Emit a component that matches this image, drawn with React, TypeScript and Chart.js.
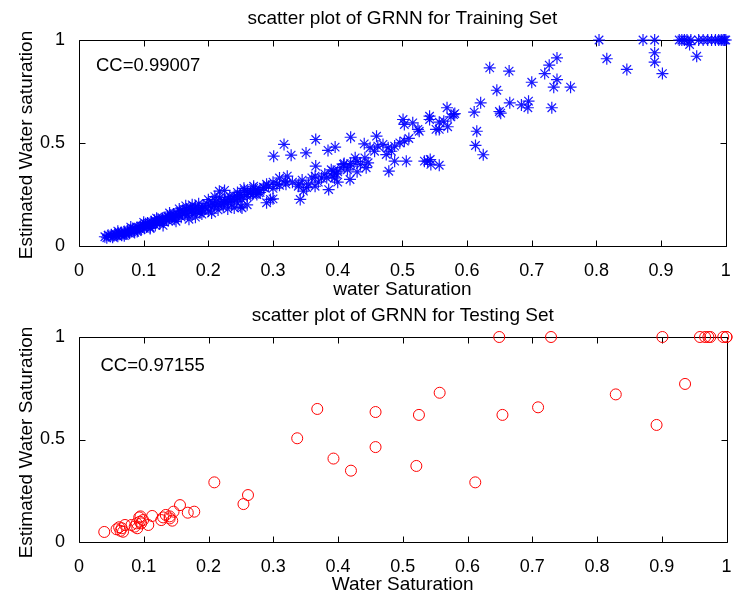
import React, { useEffect, useRef } from 'react';
import { Chart, registerables } from 'chart.js';

Chart.register(...registerables);

const FONT = '"Liberation Sans", Arial, Helvetica, sans-serif';

const X_TICK_LABELS = ['0', '0.1', '0.2', '0.3', '0.4', '0.5', '0.6', '0.7', '0.8', '0.9', '1'];
const Y_TICK_LABELS = ['0', '0.5', '1'];

const TRAIN_TITLE = 'scatter plot of GRNN for Training Set';
const TRAIN_XLABEL = 'water Saturation';
const TRAIN_YLABEL = 'Estimated Water saturation';
const TRAIN_CC = 'CC=0.99007';

const TEST_TITLE = 'scatter plot of GRNN for Testing Set';
const TEST_XLABEL = 'Water Saturation';
const TEST_YLABEL = 'Estimated Water Saturation';
const TEST_CC = 'CC=0.97155';

// [actual water saturation, estimated water saturation]
const TRAIN_POINTS: [number, number][] = [
  [0.040, 0.045], [0.043, 0.040], [0.045, 0.052], [0.048, 0.047], [0.050, 0.055], [0.052, 0.043],
  [0.054, 0.050], [0.056, 0.060], [0.058, 0.053], [0.060, 0.047], [0.061, 0.062], [0.063, 0.057],
  [0.065, 0.066], [0.066, 0.052], [0.068, 0.060], [0.070, 0.070], [0.071, 0.063], [0.073, 0.058],
  [0.075, 0.075], [0.076, 0.067], [0.078, 0.062], [0.080, 0.078], [0.081, 0.070], [0.083, 0.085],
  [0.085, 0.073], [0.086, 0.066], [0.088, 0.082], [0.090, 0.090], [0.091, 0.076], [0.093, 0.086],
  [0.095, 0.096], [0.096, 0.080], [0.098, 0.092], [0.100, 0.100], [0.101, 0.086], [0.103, 0.108],
  [0.105, 0.095], [0.106, 0.112], [0.108, 0.101], [0.110, 0.090], [0.112, 0.118], [0.113, 0.105],
  [0.115, 0.110], [0.117, 0.125], [0.118, 0.100], [0.120, 0.115], [0.122, 0.130], [0.124, 0.120],
  [0.125, 0.108], [0.127, 0.125], [0.129, 0.135], [0.131, 0.118], [0.133, 0.140], [0.135, 0.128],
  [0.137, 0.145], [0.138, 0.122], [0.140, 0.135], [0.142, 0.150], [0.144, 0.138], [0.146, 0.155],
  [0.148, 0.130], [0.150, 0.145], [0.152, 0.160], [0.154, 0.148], [0.156, 0.168], [0.158, 0.140],
  [0.160, 0.155], [0.162, 0.172], [0.164, 0.160], [0.166, 0.180], [0.168, 0.150], [0.170, 0.165],
  [0.172, 0.185], [0.174, 0.170], [0.176, 0.158], [0.178, 0.178], [0.180, 0.190], [0.182, 0.168],
  [0.185, 0.182], [0.187, 0.160], [0.190, 0.175], [0.192, 0.195], [0.195, 0.185], [0.198, 0.205],
  [0.200, 0.170], [0.203, 0.195], [0.206, 0.210], [0.209, 0.190], [0.212, 0.218], [0.215, 0.200],
  [0.218, 0.235], [0.220, 0.205], [0.223, 0.190], [0.226, 0.225], [0.230, 0.212], [0.233, 0.240],
  [0.236, 0.200], [0.240, 0.230], [0.244, 0.215], [0.248, 0.245], [0.252, 0.225], [0.256, 0.270],
  [0.260, 0.240], [0.265, 0.260], [0.270, 0.280], [0.275, 0.250], [0.280, 0.270], [0.285, 0.285],
  [0.060, 0.072], [0.080, 0.092], [0.100, 0.115], [0.120, 0.135], [0.140, 0.160], [0.155, 0.180],
  [0.165, 0.195], [0.175, 0.200], [0.185, 0.205], [0.200, 0.225], [0.210, 0.240], [0.225, 0.270],
  [0.245, 0.260], [0.255, 0.280], [0.270, 0.290], [0.290, 0.300], [0.300, 0.310], [0.310, 0.330],
  [0.070, 0.050], [0.090, 0.070], [0.110, 0.085], [0.130, 0.100], [0.150, 0.120], [0.170, 0.130],
  [0.180, 0.140], [0.190, 0.155], [0.205, 0.160], [0.215, 0.175], [0.230, 0.180], [0.250, 0.190],
  [0.260, 0.200], [0.290, 0.210], [0.110, 0.110], [0.130, 0.128], [0.145, 0.142], [0.160, 0.165],
  [0.175, 0.175], [0.190, 0.185], [0.210, 0.200], [0.225, 0.215], [0.235, 0.225], [0.245, 0.235],
  [0.260, 0.250], [0.270, 0.255], [0.280, 0.260], [0.300, 0.280], [0.310, 0.295], [0.320, 0.300],
  [0.330, 0.310], [0.340, 0.300], [0.345, 0.320], [0.355, 0.300], [0.370, 0.310], [0.375, 0.330],
  [0.380, 0.350], [0.390, 0.370], [0.400, 0.360], [0.405, 0.380], [0.410, 0.400], [0.415, 0.370],
  [0.420, 0.400], [0.430, 0.410], [0.435, 0.395], [0.430, 0.360],
  [0.217, 0.266], [0.224, 0.210], [0.231, 0.226], [0.240, 0.242], [0.240, 0.185], [0.250, 0.250],
  [0.252, 0.185], [0.260, 0.266], [0.268, 0.250], [0.273, 0.274], [0.278, 0.258], [0.286, 0.283],
  [0.293, 0.290], [0.296, 0.226], [0.300, 0.229], [0.301, 0.436], [0.306, 0.299], [0.317, 0.493],
  [0.319, 0.315], [0.322, 0.339], [0.328, 0.441], [0.339, 0.290], [0.342, 0.226], [0.347, 0.266],
  [0.351, 0.452], [0.352, 0.283], [0.360, 0.331], [0.365, 0.339], [0.365, 0.290], [0.366, 0.517],
  [0.366, 0.388], [0.383, 0.331], [0.385, 0.464], [0.386, 0.274], [0.391, 0.339], [0.393, 0.363],
  [0.395, 0.330], [0.398, 0.350], [0.400, 0.310], [0.396, 0.480], [0.409, 0.396], [0.419, 0.388],
  [0.419, 0.323], [0.420, 0.528], [0.427, 0.428], [0.441, 0.496], [0.442, 0.428], [0.444, 0.380],
  [0.447, 0.404], [0.450, 0.477], [0.457, 0.460], [0.460, 0.533], [0.462, 0.485], [0.470, 0.493],
  [0.475, 0.444], [0.478, 0.477], [0.479, 0.363], [0.483, 0.460], [0.488, 0.485], [0.488, 0.412],
  [0.496, 0.501], [0.501, 0.614], [0.503, 0.509], [0.503, 0.590], [0.506, 0.412], [0.510, 0.522],
  [0.516, 0.598], [0.524, 0.566], [0.526, 0.557], [0.534, 0.412], [0.539, 0.412], [0.542, 0.614],
  [0.542, 0.630], [0.543, 0.420], [0.544, 0.396], [0.552, 0.566], [0.557, 0.392], [0.557, 0.601],
  [0.557, 0.566], [0.564, 0.606], [0.569, 0.671], [0.570, 0.579], [0.575, 0.627], [0.579, 0.638],
  [0.581, 0.643], [0.611, 0.650], [0.613, 0.488], [0.615, 0.557], [0.621, 0.695], [0.625, 0.443],
  [0.635, 0.865], [0.646, 0.756], [0.650, 0.653], [0.652, 0.645], [0.665, 0.849], [0.666, 0.695],
  [0.684, 0.685], [0.694, 0.671], [0.695, 0.703], [0.700, 0.795], [0.720, 0.837], [0.727, 0.878],
  [0.731, 0.671], [0.734, 0.771], [0.739, 0.913], [0.739, 0.808], [0.760, 0.771], [0.804, 1.000],
  [0.816, 0.909], [0.847, 0.857], [0.872, 1.000], [0.890, 1.000], [0.890, 0.938], [0.890, 0.893],
  [0.902, 0.837], [0.928, 1.000], [0.932, 1.000], [0.936, 1.000], [0.940, 1.000], [0.944, 0.978],
  [0.946, 1.000], [0.955, 0.921], [0.958, 1.000], [0.965, 1.000], [0.972, 1.000], [0.978, 1.000],
  [0.984, 1.000], [0.989, 1.000], [0.993, 1.000], [0.996, 1.000], [0.998, 1.000], [1.000, 1.000],
];

const TEST_POINTS: [number, number][] = [
  [0.039, 0.049], [0.058, 0.062], [0.062, 0.072], [0.064, 0.055], [0.066, 0.067], [0.068, 0.050],
  [0.071, 0.083], [0.081, 0.083], [0.086, 0.075], [0.089, 0.091], [0.090, 0.067], [0.093, 0.120],
  [0.094, 0.099], [0.095, 0.125], [0.096, 0.091], [0.099, 0.107], [0.107, 0.083], [0.113, 0.127],
  [0.127, 0.107], [0.130, 0.120], [0.134, 0.132], [0.140, 0.115], [0.140, 0.125], [0.144, 0.104],
  [0.146, 0.148], [0.156, 0.180], [0.168, 0.143], [0.178, 0.148], [0.209, 0.291], [0.254, 0.185],
  [0.261, 0.229], [0.337, 0.506], [0.368, 0.649], [0.393, 0.407], [0.420, 0.348], [0.458, 0.634],
  [0.458, 0.463], [0.521, 0.371], [0.525, 0.620], [0.557, 0.728], [0.612, 0.291], [0.649, 1.000],
  [0.654, 0.620], [0.709, 0.657], [0.729, 1.000], [0.829, 0.720], [0.892, 0.571], [0.901, 1.000],
  [0.936, 0.771], [0.959, 1.000], [0.967, 1.000], [0.972, 1.000], [0.975, 1.000], [0.995, 1.000],
  [1.000, 1.000], [1.000, 1.000],
];

type Decor = {
  title: string;
  xlabel: string;
  ylabel: string;
  cc: string;
  ccX: number;
  ccBaseline: number;
  titleBaseline: number;
  xlabelBaseline: number;
  ylabelBaselineX: number;
  ylabelCenterY: number;
};

function decorPlugin(d: Decor) {
  return {
    id: 'decor',
    beforeDatasetsDraw(chart: any) {
      const { ctx, chartArea: a, scales } = chart;
      const L = Math.round(a.left) + 0.5;
      const R = Math.round(a.right) + 0.5;
      const T = Math.round(a.top) + 0.5;
      const B = Math.round(a.bottom) + 0.5;
      const len = 6;
      ctx.save();
      ctx.strokeStyle = '#000';
      ctx.lineWidth = 1;
      ctx.beginPath();
      ctx.rect(L, T, R - L, B - T);
      scales.x.ticks.forEach((t: any) => {
        const px = Math.round(scales.x.getPixelForValue(t.value)) + 0.5;
        ctx.moveTo(px, B);
        ctx.lineTo(px, B - len);
        ctx.moveTo(px, T);
        ctx.lineTo(px, T + len);
      });
      scales.y.ticks.forEach((t: any) => {
        const py = Math.round(scales.y.getPixelForValue(t.value)) + 0.5;
        ctx.moveTo(L, py);
        ctx.lineTo(L + len, py);
        ctx.moveTo(R, py);
        ctx.lineTo(R - len, py);
      });
      ctx.stroke();
      ctx.restore();
    },
    afterDraw(chart: any) {
      const { ctx, chartArea: a } = chart;
      const cx = (a.left + a.right) / 2;
      ctx.save();
      ctx.fillStyle = '#000';
      ctx.textBaseline = 'alphabetic';
      ctx.font = `19px ${FONT}`;
      ctx.textAlign = 'center';
      ctx.fillText(d.title, cx, d.titleBaseline);
      ctx.fillText(d.xlabel, cx, d.xlabelBaseline);
      ctx.font = `18.5px ${FONT}`;
      ctx.textAlign = 'left';
      ctx.fillText(d.cc, d.ccX, d.ccBaseline);
      ctx.font = `19px ${FONT}`;
      ctx.translate(d.ylabelBaselineX, d.ylabelCenterY);
      ctx.rotate(-Math.PI / 2);
      ctx.textAlign = 'center';
      ctx.fillText(d.ylabel, 0, 0);
      ctx.restore();
    },
  };
}

function makeChart(
  canvas: HTMLCanvasElement,
  points: [number, number][],
  style: any,
  top: number,
  xAxisHeight: number,
  d: Decor
) {
  return new Chart(canvas, {
    type: 'scatter',
    data: {
      datasets: [
        {
          data: points.map(([x, y]) => ({ x, y })),
          showLine: false,
          clip: false as any,
          ...style,
        },
      ],
    },
    options: {
      responsive: false,
      animation: false,
      events: [],
      layout: { padding: { top, right: 3, left: 0, bottom: 0 } },
      plugins: {
        legend: { display: false },
        tooltip: { enabled: false },
        title: { display: false },
      },
      scales: {
        x: {
          type: 'linear',
          min: 0,
          max: 1,
          grid: { display: false },
          border: { display: false },
          ticks: {
            stepSize: 0.1,
            autoSkip: false,
            maxRotation: 0,
            padding: 6,
            color: '#000',
            font: { family: FONT, size: 18 },
            callback: (_v: any, i: number) => X_TICK_LABELS[i],
          },
          afterFit: (s: any) => {
            s.height = xAxisHeight;
            s.paddingLeft = 0;
            s.paddingRight = 0;
          },
        },
        y: {
          type: 'linear',
          min: 0,
          max: 1,
          grid: { display: false },
          border: { display: false },
          ticks: {
            stepSize: 0.5,
            autoSkip: false,
            padding: 6,
            color: '#000',
            font: { family: FONT, size: 18 },
            callback: (_v: any, i: number) => Y_TICK_LABELS[i],
          },
          afterFit: (s: any) => {
            s.width = 79;
            s.paddingTop = 0;
            s.paddingBottom = 0;
          },
        },
      },
    },
    plugins: [decorPlugin(d)],
  } as any);
}

export default function App() {
  const topRef = useRef<HTMLCanvasElement>(null);
  const bottomRef = useRef<HTMLCanvasElement>(null);

  useEffect(() => {
    const c1 = makeChart(
      topRef.current!,
      TRAIN_POINTS,
      { pointStyle: 'star', pointRadius: 6, borderWidth: 1.2, borderColor: 'rgba(0,0,255,0.9)', backgroundColor: '#0000ff' },
      40,
      54,
      {
        title: TRAIN_TITLE,
        xlabel: TRAIN_XLABEL,
        ylabel: TRAIN_YLABEL,
        cc: TRAIN_CC,
        ccX: 96,
        ccBaseline: 71,
        titleBaseline: 24,
        xlabelBaseline: 295,
        ylabelBaselineX: 32,
        ylabelCenterY: 145,
      }
    );
    const c2 = makeChart(
      bottomRef.current!,
      TEST_POINTS,
      { pointStyle: 'circle', pointRadius: 5.5, borderWidth: 1, borderColor: '#ff0000', backgroundColor: 'rgba(0,0,0,0)' },
      37,
      51,
      {
        title: TEST_TITLE,
        xlabel: TEST_XLABEL,
        ylabel: TEST_YLABEL,
        cc: TEST_CC,
        ccX: 100.5,
        ccBaseline: 71,
        titleBaseline: 21,
        xlabelBaseline: 290,
        ylabelBaselineX: 32,
        ylabelCenterY: 142.5,
      }
    );
    return () => {
      c1.destroy();
      c2.destroy();
    };
  }, []);

  return (
    <div style={{ position: 'absolute', left: 0, top: 0, width: 733, height: 593, background: '#fff' }}>
      <canvas ref={topRef} width={733} height={300} style={{ position: 'absolute', left: 0, top: 0 }} />
      <canvas ref={bottomRef} width={733} height={293} style={{ position: 'absolute', left: 0, top: 300 }} />
    </div>
  );
}
